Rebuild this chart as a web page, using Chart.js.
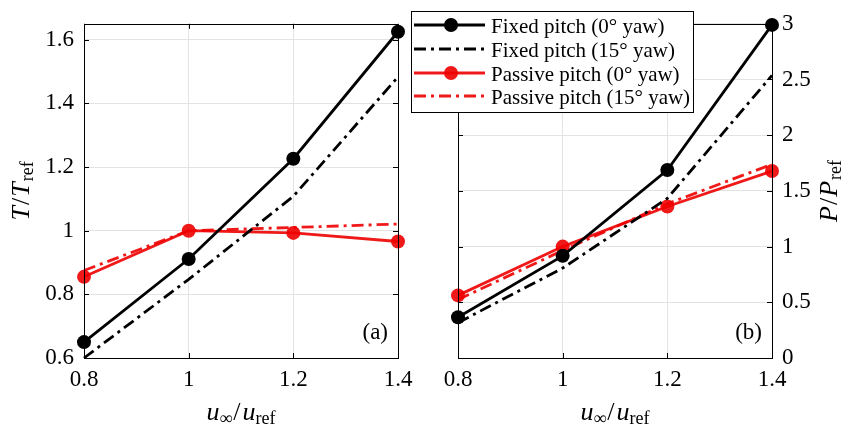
<!DOCTYPE html>
<html>
<head>
<meta charset="utf-8">
<script src="https://cdn.jsdelivr.net/npm/chart.js@4"></script>
<style>
  body { margin: 0; background: #fff; }
  #wrap { position: relative; width: 844px; height: 433px; }
  canvas { position: absolute; left: 0; top: 0; }
  #legendText { position: absolute; left: 491px; top: 0; z-index: 2; }
  #legendText div {
    position: absolute; left: 0; height: 24px; line-height: 24px; white-space: nowrap;
    font: 21px "Liberation Serif", "Times New Roman", serif; color: #000;
  }
</style>
</head>
<body>
<div id="wrap">
  <canvas id="thrustChart" width="844" height="433"></canvas>
  <canvas id="powerChart" width="844" height="433"></canvas>
  <div id="legendText"></div>
</div>
<script>
// Velocidades normalizadas
const speedRatio = [0.8, 1.0, 1.2, 1.4];

// Empuxo normalizado (a)
const thrustFixed0 = [0.65, 0.911, 1.226, 1.625];
const thrustFixed15 = [0.60, 0.847, 1.108, 1.483];
const thrustPassive0 = [0.855, 1.0, 0.993, 0.966];
const thrustPassive15 = [0.875, 1.0, 1.01, 1.021];

// Potência normalizada (b)
const powerFixed0 = [0.366, 0.917, 1.687, 2.99];
const powerFixed15 = [0.317, 0.807, 1.433, 2.537];
const powerPassive0 = [0.562, 1.0, 1.36, 1.678];
const powerPassive15 = [0.524, 0.965, 1.384, 1.739];

const seriesLabels = ['Fixed pitch (0° yaw)', 'Fixed pitch (15° yaw)', 'Passive pitch (0° yaw)', 'Passive pitch (15° yaw)'];

const BLACK = '#000000';
const RED = 'rgba(238, 0, 0, 0.9)';
const DASHDOT = [12, 5, 3, 5];
const FONT = '"Liberation Serif", "Times New Roman", serif';
const LEGEND_ROWS = [25, 49, 73, 96];

function toPoints(ys) {
    return speedRatio.map((x, i) => ({ x: x, y: ys[i] }));
}

function makeDatasets(f0, f15, p0, p15) {
    const base = { fill: false, tension: 0, borderWidth: 2.8, clip: false };
    return [
        Object.assign({}, base, { label: seriesLabels[0], data: toPoints(f0), borderColor: BLACK, backgroundColor: BLACK, pointRadius: 7, pointBorderWidth: 0 }),
        Object.assign({}, base, { label: seriesLabels[1], data: toPoints(f15), borderColor: BLACK, backgroundColor: BLACK, borderDash: DASHDOT, pointRadius: 0 }),
        Object.assign({}, base, { label: seriesLabels[2], data: toPoints(p0), borderColor: RED, backgroundColor: RED, pointRadius: 7, pointBorderWidth: 0 }),
        Object.assign({}, base, { label: seriesLabels[3], data: toPoints(p15), borderColor: RED, backgroundColor: RED, borderDash: DASHDOT, pointRadius: 0 })
    ];
}

function fmt(v) {
    return String(Number(v.toFixed(2)));
}

// Caixa, marcas internas dos eixos, títulos com subscrito e rótulo do painel
function drawMath(ctx, parts, x, y, rotate) {
    ctx.save();
    ctx.translate(x, y);
    if (rotate) ctx.rotate(-Math.PI / 2);
    let total = 0;
    const widths = parts.map(p => {
        ctx.font = p.font;
        const w = ctx.measureText(p.t).width + (p.gap || 0);
        total += w;
        return w;
    });
    let cx = -total / 2;
    ctx.fillStyle = '#000';
    ctx.textBaseline = 'middle';
    ctx.textAlign = 'left';
    parts.forEach((p, i) => {
        ctx.font = p.font;
        ctx.fillText(p.t, cx, p.dy || 0);
        cx += widths[i];
    });
    ctx.restore();
}

function framePlugin(opts) {
    return {
        id: 'frame',
        afterDatasetsDraw(chart) {
            const ctx = chart.ctx;
            const a = chart.chartArea;
            const xs = chart.scales.x;
            const ys = chart.scales.y;
            ctx.save();
            ctx.strokeStyle = '#000';
            ctx.lineWidth = 1;
            ctx.strokeRect(Math.round(a.left) + 0.5, Math.round(a.top) + 0.5, Math.round(a.right - a.left), Math.round(a.bottom - a.top));
            const tl = 5;
            ctx.beginPath();
            xs.ticks.forEach(t => {
                const px = Math.round(xs.getPixelForValue(t.value)) + 0.5;
                ctx.moveTo(px, a.bottom); ctx.lineTo(px, a.bottom - tl);
                ctx.moveTo(px, a.top); ctx.lineTo(px, a.top + tl);
            });
            ys.ticks.forEach(t => {
                const py = Math.round(ys.getPixelForValue(t.value)) + 0.5;
                ctx.moveTo(a.left, py); ctx.lineTo(a.left + tl, py);
                ctx.moveTo(a.right, py); ctx.lineTo(a.right - tl, py);
            });
            ctx.stroke();
            ctx.restore();
        },
        afterDraw(chart) {
            const ctx = chart.ctx;
            const a = chart.chartArea;
            const it = 'italic 26px ' + FONT;
            const up = '26px ' + FONT;
            const sub = '18px ' + FONT;
            const sym = opts.symbol;
            // título do eixo y
            drawMath(ctx, [
                { t: sym, font: it, gap: 1 },
                { t: '/', font: up, gap: 1 },
                { t: sym, font: it, gap: 1 },
                { t: 'ref', font: sub, dy: 6 }
            ], opts.yTitleX, (a.top + a.bottom) / 2, true);
            // título do eixo x
            drawMath(ctx, [
                { t: 'u', font: it },
                { t: '∞', font: sub, dy: 6, gap: 1 },
                { t: '/', font: up, gap: 2 },
                { t: 'u', font: it },
                { t: 'ref', font: sub, dy: 6 }
            ], (a.left + a.right) / 2, 413, false);
            ctx.save();
            ctx.font = '23px ' + FONT;
            ctx.fillStyle = '#000';
            ctx.textAlign = 'right';
            ctx.textBaseline = 'middle';
            ctx.fillText(opts.panel, a.right - 10, 333);
            ctx.restore();
        }
    };
}

// Caixa da legenda com amostras de linha e marcador; os textos ficam no div #legendText
const legendPlugin = {
    id: 'boxLegend',
    afterDraw(chart) {
        const ctx = chart.ctx;
        const left = 411, top = 11, right = 693, bottom = 112;
        ctx.save();
        ctx.fillStyle = '#fff';
        ctx.fillRect(left, top, right - left, bottom - top);
        ctx.strokeStyle = '#000';
        ctx.lineWidth = 1;
        ctx.strokeRect(left + 0.5, top + 0.5, right - left, bottom - top);
        chart.data.datasets.forEach((ds, i) => {
            const y = LEGEND_ROWS[i];
            ctx.strokeStyle = ds.borderColor;
            ctx.lineWidth = ds.borderWidth;
            ctx.setLineDash(ds.borderDash || []);
            ctx.beginPath();
            ctx.moveTo(414, y);
            ctx.lineTo(485, y);
            ctx.stroke();
            ctx.setLineDash([]);
            if (ds.pointRadius > 0) {
                ctx.fillStyle = ds.backgroundColor;
                ctx.beginPath();
                ctx.arc(451, y, ds.pointRadius, 0, Math.PI * 2);
                ctx.fill();
            }
        });
        ctx.restore();
    }
};

function buildLegendText() {
    const box = document.getElementById('legendText');
    seriesLabels.forEach((label, i) => {
        const row = document.createElement('div');
        row.textContent = label;
        row.style.top = (LEGEND_ROWS[i] + 1 - 12) + 'px';
        box.appendChild(row);
    });
}

function makeConfig(datasets, yOpts, padding, yWidth, position, plugins) {
    return {
        type: 'line',
        data: { datasets: datasets },
        options: {
            responsive: false,
            animation: false,
            layout: { padding: padding },
            plugins: { legend: { display: false }, tooltip: { enabled: false } },
            scales: {
                x: {
                    type: 'linear',
                    min: 0.8,
                    max: 1.4,
                    afterFit: s => { s.height = 75; },
                    afterBuildTicks: s => { s.ticks = speedRatio.map(v => ({ value: v })); },
                    grid: { color: '#e3e3e3', lineWidth: 1, drawTicks: false },
                    border: { display: false },
                    ticks: {
                        color: '#000',
                        font: { family: FONT, size: 23 },
                        padding: 8,
                        maxRotation: 0,
                        autoSkip: false,
                        callback: v => fmt(v)
                    }
                },
                y: {
                    type: 'linear',
                    position: position,
                    min: yOpts.min,
                    max: yOpts.max,
                    afterFit: s => { s.width = yWidth; },
                    afterBuildTicks: s => { s.ticks = yOpts.ticks.map(v => ({ value: v })); },
                    grid: { color: '#e3e3e3', lineWidth: 1, drawTicks: false },
                    border: { display: false },
                    ticks: {
                        color: '#000',
                        font: { family: FONT, size: 23 },
                        padding: 10,
                        autoSkip: false,
                        callback: v => fmt(v)
                    }
                }
            }
        },
        plugins: plugins
    };
}

const thrustTicks = [0.6, 0.8, 1.0, 1.2, 1.4, 1.6];
const powerTicks = [0, 0.5, 1, 1.5, 2, 2.5, 3];

window.onload = function() {
    const thrustCtx = document.getElementById('thrustChart').getContext('2d');
    new Chart(thrustCtx, makeConfig(
        makeDatasets(thrustFixed0, thrustFixed15, thrustPassive0, thrustPassive15),
        { min: 0.6, max: 1.65, ticks: thrustTicks },
        { left: 0, top: 11, right: 446, bottom: 0 },
        84, 'left',
        [framePlugin({ symbol: 'T', yTitleX: 22, panel: '(a)' })]
    ));

    const powerCtx = document.getElementById('powerChart').getContext('2d');
    new Chart(powerCtx, makeConfig(
        makeDatasets(powerFixed0, powerFixed15, powerPassive0, powerPassive15),
        { min: 0, max: 3, ticks: powerTicks },
        { left: 458, top: 11, right: 0, bottom: 0 },
        72, 'right',
        [framePlugin({ symbol: 'P', yTitleX: 830, panel: '(b)' }), legendPlugin]
    ));

    buildLegendText();
};
</script>
</body>
</html>
